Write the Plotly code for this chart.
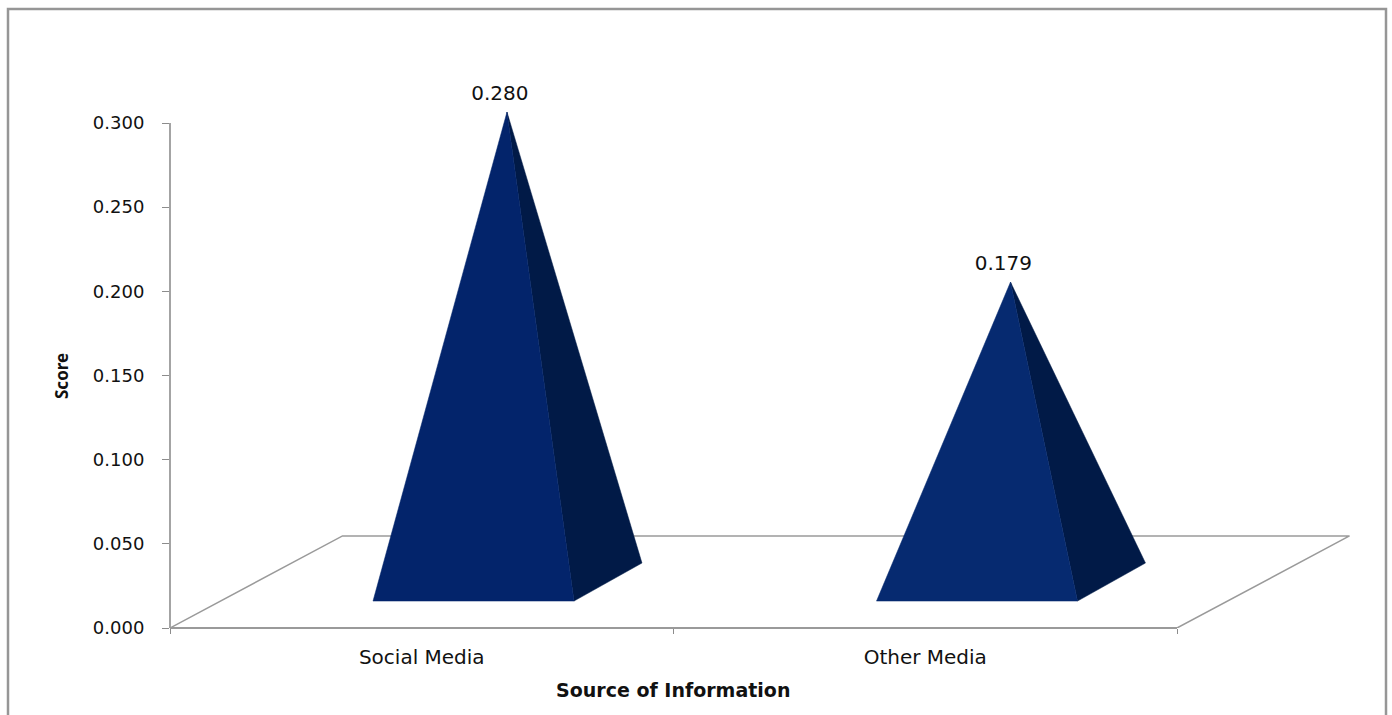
import plotly.graph_objects as go

# ---- data ----
categories = ["Social Media", "Other Media"]
scores = [0.280, 0.179]
y_ticks = [0.0, 0.05, 0.10, 0.15, 0.20, 0.25, 0.30]
y_tick_labels = ["0.000", "0.050", "0.100", "0.150", "0.200", "0.250", "0.300"]
y_max = 0.30
x_axis_title = "Source of Information"
y_axis_title = "Score"

# ---- layout geometry (pixels) ----
W, H = 1392, 715
LEFT, BOTTOM_PX = 170, 628
PLOT_RIGHT, PLOT_TOP = 1350, 72
PX_PER_CAT = 503.5
PX_PER_UNIT = 505 / y_max
x_range = [-0.5, -0.5 + (PLOT_RIGHT - LEFT) / PX_PER_CAT]
y_range = [0, (BOTTOM_PX - PLOT_TOP) / PX_PER_UNIT]

# pseudo-3D offsets, in axis units
BASE_L, BASE_R, BACK_R, APEX_DX = -0.0968, 0.3024, 0.4374, 0.1693
BASE_Y, BACK_Y, APEX_DY = 0.016, 0.0386, 0.0265
LABEL_DX, LABEL_DY = 0.155, 0.0366
FLOOR_DX, FLOOR_DY = 0.3426, 0.0547

GREY = "#9a9a9a"
FRONT = ["#03246b", "#062a70"]
SIDE = ["#011a47", "#011a47"]
TICK_FONT = dict(family="DejaVu Sans", size=18, color="#111111")
LABEL_FONT = dict(family="DejaVu Sans", size=20, color="#111111")
CAT_FONT = dict(family="DejaVu Sans", size=20, color="#111111")

fig = go.Figure()
first, last = -0.5, len(categories) - 0.5

# floor outline
fig.add_trace(go.Scatter(
    x=[first, first + FLOOR_DX, last + FLOOR_DX, last],
    y=[0, FLOOR_DY, FLOOR_DY, 0], mode="lines", cliponaxis=False,
    line=dict(color=GREY, width=1.5), hoverinfo="skip", showlegend=False))

# pyramids
for i, (cat, v) in enumerate(zip(categories, scores)):
    apex_x, apex_y = i + APEX_DX, v + APEX_DY
    fig.add_trace(go.Scatter(
        x=[i + BASE_R, i + BACK_R, apex_x, i + BASE_R],
        y=[BASE_Y, BACK_Y, apex_y, BASE_Y],
        mode="lines", fill="toself", fillcolor=SIDE[i],
        line=dict(color=SIDE[i], width=0.5), showlegend=False, hoverinfo="skip"))
    fig.add_trace(go.Scatter(
        x=[i + BASE_L, i + BASE_R, apex_x, i + BASE_L],
        y=[BASE_Y, BASE_Y, apex_y, BASE_Y],
        mode="lines", fill="toself", fillcolor=FRONT[i],
        line=dict(color=FRONT[i], width=0.5), showlegend=False, name=cat,
        hoverinfo="skip"))
    fig.add_trace(go.Scatter(
        x=[i + LABEL_DX], y=[v + LABEL_DY], mode="text",
        text=[f"{v:.3f}"], textposition="middle center",
        textfont=LABEL_FONT, showlegend=False, hoverinfo="skip"))


def px(x):
    return (x - LEFT) / (PLOT_RIGHT - LEFT)


def py(y):
    return (BOTTOM_PX - y) / (BOTTOM_PX - PLOT_TOP)


x_end = LEFT + (last - first) * PX_PER_CAT
y_end = BOTTOM_PX - y_max * PX_PER_UNIT

fig.update_layout(
    width=W, height=H, autosize=False,
    margin=dict(l=LEFT, r=W - PLOT_RIGHT, t=PLOT_TOP, b=H - BOTTOM_PX, pad=0),
    paper_bgcolor="white", plot_bgcolor="white",
    xaxis=dict(range=x_range, tickmode="array",
               tickvals=[first, 0.5, last], ticktext=["", "", ""],
               ticks="outside", ticklen=5, tickcolor="#8c8c8c", tickwidth=1,
               showgrid=False, zeroline=False, showline=False),
    xaxis2=dict(range=x_range, overlaying="x", side="bottom", anchor="y",
                tickmode="array", tickvals=list(range(len(categories))),
                ticktext=categories, tickfont=CAT_FONT,
                ticks="outside", ticklen=11, tickcolor="rgba(0,0,0,0)",
                showgrid=False, zeroline=False, showline=False),
    yaxis=dict(range=y_range, tickmode="array", tickvals=y_ticks,
               ticktext=y_tick_labels, tickfont=TICK_FONT,
               ticks="outside", ticklen=7, tickcolor="#8c8c8c", tickwidth=1,
               ticklabelstandoff=14,
               showgrid=False, zeroline=False, showline=False),
    annotations=[
        dict(text=f"<b>{x_axis_title}</b>", xref="paper", yref="paper",
             x=px(673), y=py(690), showarrow=False,
             xanchor="center", yanchor="middle",
             font=dict(family="DejaVu Sans", size=19, color="#111111")),
        dict(text=f"<b>{y_axis_title}</b>", xref="paper", yref="paper",
             x=px(62), y=py(376), showarrow=False, textangle=-90,
             xanchor="center", yanchor="middle",
             font=dict(family="Noto Sans", size=17, color="#111111")),
    ],
    shapes=[
        dict(type="path", xref="paper", yref="paper",
             path=f"M {px(8)} {py(H + 5)} L {px(8)} {py(9)} L {px(1386)} {py(9)} L {px(1386)} {py(H + 5)}",
             line=dict(color="#969696", width=2.5)),
        dict(type="line", xref="paper", yref="paper", x0=px(LEFT), x1=px(x_end),
             y0=py(BOTTOM_PX), y1=py(BOTTOM_PX), line=dict(color=GREY, width=1.8)),
        dict(type="line", xref="paper", yref="paper", x0=px(LEFT), x1=px(LEFT),
             y0=py(BOTTOM_PX), y1=py(y_end), line=dict(color=GREY, width=1.8)),
    ],
)
# keep an invisible trace on xaxis2 so the overlay axis is rendered
fig.add_trace(go.Scatter(x=[0, 1], y=[0, 0], xaxis="x2", mode="markers",
                         marker=dict(opacity=0), hoverinfo="skip", showlegend=False))

fig.write_html("out.html", config={"displayModeBar": False},
               post_script="document.body.style.margin='0';")
